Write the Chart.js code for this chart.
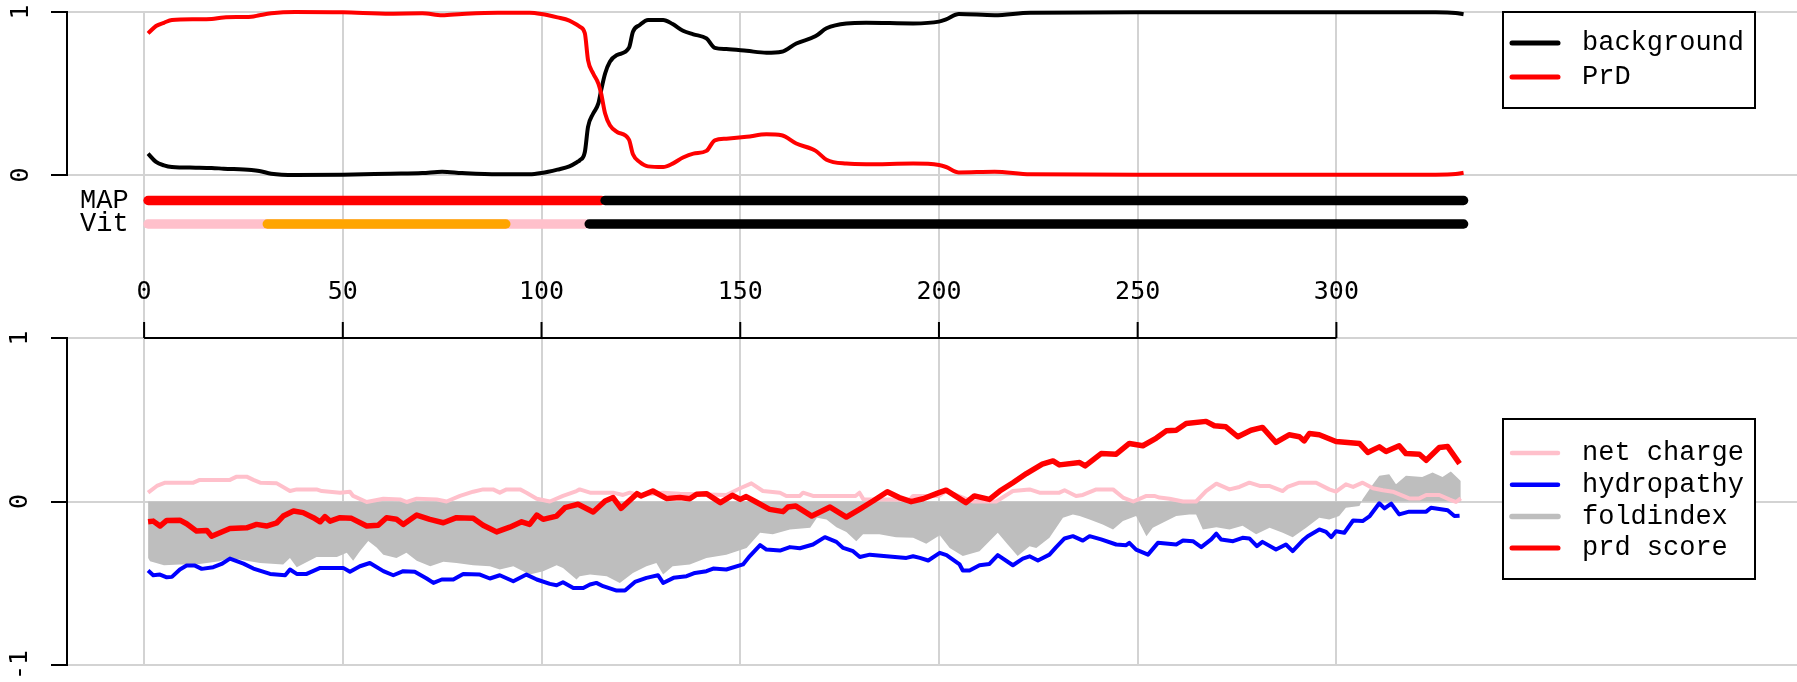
<!DOCTYPE html>
<html>
<head>
<meta charset="utf-8">
<script src="https://cdn.jsdelivr.net/npm/chart.js@4/dist/chart.umd.min.js"></script>
<style>
  html, body { margin: 0; padding: 0; background: #ffffff; }
  #chart { display: block; }
</style>
</head>
<body>
<canvas id="chart" width="1797" height="682"></canvas>
<script>
// ---- data ----
const xTicks = [0, 50, 100, 150, 200, 250, 300];
const topTicks = [0, 1];
const bottomTicks = [-1, 0, 1];
const trackNames = ["MAP", "Vit"];

const topLegendLabels = ["background", "PrD"];
const bottomLegendLabels = ["net charge", "hydropathy", "foldindex", "prd score"];

// residue ranges of each state along the two tracks (later runs drawn on top)
const mapRuns = [[1, 115], [116, 332]];
const mapStates = ["PrD", "background"];
const vitRuns = [[1, 111], [31, 91], [112, 332]];
const vitStates = ["PrD", "core", "background"];

// top panel: state probabilities, [residue, value]
const prdProb = [
  [1, 0.869], [3, 0.914], [5, 0.934], [7, 0.951], [13, 0.955], [17, 0.957], [20, 0.967],
  [27, 0.971], [29, 0.98], [32, 0.992], [38, 1.0], [50, 0.998], [62, 0.99], [70, 0.992],
  [75, 0.98], [80, 0.988], [89, 0.996], [97, 0.996], [100, 0.988], [104, 0.967], [107, 0.947],
  [109, 0.92], [109.6, 0.91], [110.9, 0.869], [111.7, 0.705], [113, 0.623], [114.3, 0.561],
  [115, 0.5], [116, 0.377], [117.2, 0.305], [119, 0.264], [122, 0.217], [123, 0.127],
  [124.7, 0.08], [126.8, 0.053], [130.6, 0.049], [133, 0.07], [135.6, 0.107], [138.2, 0.131],
  [141.5, 0.148], [143.6, 0.213], [146.5, 0.223], [151.6, 0.234], [156.6, 0.25], [160.4, 0.244],
  [164.1, 0.193], [169, 0.148], [171.7, 0.094], [176.7, 0.07], [181.7, 0.066], [193.5, 0.07],
  [200, 0.061], [201.8, 0.049], [205, 0.016], [214, 0.02], [223, 0.004], [250, 0.002],
  [300, 0.002], [325, 0.002], [330, 0.006], [332, 0.014],
];
const bgProb = [
  [1, 0.131], [3, 0.08], [5, 0.059], [7, 0.049], [13, 0.045], [17, 0.043], [20, 0.039],
  [27, 0.031], [29, 0.025], [32, 0.008], [38, 0.0], [50, 0.002], [62, 0.008], [70, 0.012],
  [75, 0.02], [80, 0.012], [89, 0.004], [97, 0.004], [100, 0.012], [104, 0.033], [107, 0.053],
  [109, 0.08], [109.6, 0.09], [110.9, 0.141], [111.7, 0.295], [113, 0.377], [114.3, 0.439],
  [115, 0.52], [116, 0.623], [117.2, 0.695], [119, 0.736], [122, 0.78], [123, 0.879],
  [124.7, 0.92], [126.8, 0.951], [130.6, 0.951], [133, 0.926], [135.6, 0.885], [138.2, 0.863],
  [141.5, 0.838], [143.6, 0.78], [146.5, 0.773], [151.6, 0.762], [156.6, 0.75], [160.4, 0.756],
  [164.1, 0.807], [169, 0.852], [171.7, 0.9], [176.7, 0.93], [181.7, 0.934], [193.5, 0.93],
  [200, 0.941], [201.8, 0.955], [205, 0.988], [214, 0.98], [223, 0.996], [250, 0.998],
  [300, 0.998], [325, 0.998], [330, 0.994], [332, 0.986],
];

// bottom panel: per-residue scores, [residue, value]
const prdScore = [
  [1, -0.124], [2.3, -0.12], [4, -0.15], [5.7, -0.116], [9, -0.114], [10.7, -0.136], [13.2, -0.181],
  [15.8, -0.177], [17, -0.212], [21.6, -0.165], [25.8, -0.161], [28.3, -0.14], [30.8, -0.15],
  [33.4, -0.13], [35, -0.089], [37.6, -0.058], [40, -0.068], [42.6, -0.099], [44.3, -0.124],
  [45.5, -0.093], [46.8, -0.12], [49.3, -0.099], [52.2, -0.103], [56, -0.15], [58.9, -0.145],
  [61, -0.099], [63.5, -0.109], [65.2, -0.14], [68.6, -0.083], [71.9, -0.109], [75.3, -0.13],
  [78.6, -0.099], [82.8, -0.103], [85.3, -0.145], [88.7, -0.186], [92, -0.157], [95, -0.124],
  [97, -0.14], [98.8, -0.083], [100.4, -0.109], [103.8, -0.089], [105.9, -0.038], [109.2, -0.017],
  [113, -0.064], [116, 0.003], [118, 0.024], [120, -0.042], [124, 0.048], [125, 0.034],
  [128, 0.064], [131.4, 0.019], [134.8, 0.024], [137.3, 0.017], [139, 0.044], [141.5, 0.048],
  [145, -0.007], [148, 0.038], [150, 0.013], [151.5, 0.03], [154, -0.003], [157.4, -0.048],
  [160.8, -0.062], [162, -0.034], [164, -0.028], [168, -0.089], [172.6, -0.034], [176.7, -0.095],
  [180, -0.048], [183.4, 0.003], [187, 0.06], [190, 0.024], [193, -0.001], [196, 0.017],
  [200, 0.054], [201.8, 0.069], [203.5, 0.044], [206.8, -0.007], [208.9, 0.034], [212.7, 0.013],
  [215.3, 0.064], [218.6, 0.115], [222, 0.171], [226, 0.228], [228.7, 0.248], [230.3, 0.224],
  [235.4, 0.238], [236.8, 0.218], [240.8, 0.293], [244.6, 0.289], [247.9, 0.355], [251.3, 0.341],
  [254.7, 0.388], [257.2, 0.432], [259.7, 0.436], [262.2, 0.477], [267.2, 0.49], [269.3, 0.463],
  [272.2, 0.457], [275.2, 0.396], [278.5, 0.436], [281.4, 0.453], [284.8, 0.361], [288.1, 0.408],
  [290.7, 0.396], [291.9, 0.371], [293.2, 0.416], [295.7, 0.408], [299.9, 0.367], [305.8, 0.355],
  [307.9, 0.3], [310.8, 0.334], [312.5, 0.306], [315.8, 0.341], [317.5, 0.293], [320.9, 0.289],
  [322.6, 0.252], [325.9, 0.33], [328, 0.336], [331, 0.232],
];
const hydropathy = [
  [1, -0.422], [2.3, -0.451], [4, -0.447], [5.7, -0.464], [7, -0.461], [9, -0.416], [10.7, -0.392],
  [12.8, -0.392], [14.5, -0.412], [17.4, -0.402], [19.5, -0.382], [21.6, -0.349], [25, -0.38],
  [27.5, -0.41], [31.7, -0.443], [35.5, -0.451], [36.7, -0.416], [38.4, -0.443], [40.9, -0.443],
  [44.3, -0.406], [50.1, -0.406], [51.8, -0.43], [54.3, -0.396], [56.8, -0.376], [60.2, -0.426],
  [62.7, -0.451], [65.2, -0.426], [68.1, -0.43], [71.1, -0.471], [72.8, -0.498], [74.9, -0.477],
  [77.8, -0.477], [80.3, -0.443], [84.5, -0.447], [87, -0.471], [89.5, -0.451], [92.9, -0.488],
  [96.2, -0.447], [98.8, -0.477], [102.1, -0.504], [103.8, -0.512], [105.4, -0.494], [108, -0.529],
  [110.5, -0.529], [112.2, -0.508], [113.8, -0.498], [115.5, -0.518], [118.9, -0.545], [121, -0.545],
  [123.5, -0.492], [126.4, -0.467], [129.3, -0.451], [130.6, -0.498], [133.2, -0.467], [136.5, -0.457],
  [138.6, -0.437], [141.5, -0.426], [143.2, -0.41], [146.5, -0.416], [150.7, -0.385], [152.4, -0.334],
  [155, -0.267], [156.6, -0.294], [160, -0.3], [162.5, -0.279], [165, -0.286], [168.3, -0.263],
  [171.3, -0.218], [174.2, -0.247], [175.9, -0.284], [178.4, -0.304], [180.1, -0.339], [182.6, -0.325],
  [186.8, -0.335], [191.8, -0.345], [193.5, -0.335], [195.2, -0.345], [197.3, -0.361], [200.2, -0.314],
  [201.9, -0.328], [205.2, -0.385], [206, -0.422], [207.7, -0.422], [210.2, -0.39], [212.7, -0.382],
  [214.8, -0.328], [218.6, -0.39], [221.1, -0.349], [222.8, -0.335], [224.9, -0.361], [227.8, -0.325],
  [229.5, -0.279], [231.6, -0.226], [233.7, -0.212], [236.2, -0.239], [237.9, -0.212], [240.8, -0.232],
  [244.6, -0.263], [247.1, -0.267], [247.9, -0.253], [249.6, -0.294], [252.6, -0.325], [255.1, -0.253],
  [259.7, -0.263], [261.4, -0.239], [263.9, -0.243], [266, -0.279], [268.5, -0.232], [269.8, -0.197],
  [271, -0.232], [274, -0.243], [276.4, -0.222], [278.1, -0.226], [280, -0.273], [281.4, -0.247],
  [284.8, -0.294], [287.3, -0.263], [289, -0.304], [291.5, -0.239], [292.8, -0.212], [295.7, -0.171],
  [297.4, -0.186], [298.7, -0.218], [299.9, -0.182], [302, -0.191], [304.2, -0.116], [306.6, -0.12],
  [308.4, -0.089], [310.8, -0.011], [312.1, -0.042], [313.8, -0.013], [315.8, -0.079], [318.3, -0.062],
  [322.6, -0.062], [323.8, -0.038], [328, -0.054], [329.7, -0.089], [331, -0.087],
];
const netCharge = [
  [1, 0.054], [3.2, 0.095], [5.3, 0.115], [12.4, 0.115], [14, 0.132], [21.6, 0.132], [23.3, 0.152],
  [25.8, 0.152], [27.5, 0.132], [29.2, 0.115], [33.4, 0.111], [36.7, 0.064], [38.4, 0.074],
  [43.4, 0.074], [44.7, 0.064], [49.3, 0.054], [51.8, 0.06], [52.6, 0.034], [56, -0.003],
  [60.2, 0.017], [64.4, 0.013], [66.1, -0.003], [68.6, 0.017], [73.6, 0.013], [76.1, 0.0],
  [79.5, 0.034], [82.8, 0.06], [85.3, 0.074], [87.8, 0.074], [89.5, 0.054], [91.2, 0.074],
  [94.6, 0.074], [96.2, 0.054], [98.8, 0.017], [102.1, 0.0], [105.4, 0.034], [108.8, 0.064],
  [109.6, 0.074], [112.2, 0.054], [118, 0.054], [120.5, 0.04], [122.2, 0.054], [124.7, 0.04],
  [130.6, 0.054], [134.8, 0.048], [146.5, 0.04], [150, 0.081], [152.8, 0.111], [155.7, 0.064],
  [160, 0.054], [161.6, 0.034], [165, 0.034], [165.8, 0.054], [168.3, 0.034], [179, 0.034],
  [180, 0.054], [181, 0.013], [192.6, 0.01], [193.5, 0.034], [200, 0.034], [201.8, 0.064],
  [206, 0.024], [208.5, 0.0], [214.4, 0.0], [216, 0.024], [218.6, 0.064], [222.8, 0.074],
  [225.3, 0.054], [230.3, 0.054], [231.6, 0.069], [234.5, 0.034], [236.2, 0.04], [239.6, 0.074],
  [243.8, 0.074], [246.3, 0.024], [248.9, 0.0], [252.2, 0.034], [254.2, 0.034], [255.5, 0.024],
  [258, 0.017], [261.4, 0.0], [264.7, 0.0], [267.2, 0.064], [269.8, 0.109], [273.1, 0.074],
  [275.6, 0.089], [278.1, 0.115], [280.7, 0.095], [283.1, 0.095], [286.5, 0.064], [287.7, 0.089],
  [290.7, 0.115], [294.9, 0.115], [298.2, 0.074], [299.9, 0.06], [302.4, 0.105], [304.2, 0.089],
  [306.6, 0.115], [309.2, 0.081], [311.7, 0.069], [314.2, 0.06], [318.3, 0.019], [320.9, 0.019],
  [322.6, 0.04], [325.9, 0.04], [328.4, 0.013], [330.1, -0.003], [331.3, 0.019],
];
const foldIndex = [
  [1, -0.345], [1.5, -0.366], [5, -0.39], [9, -0.385], [13, -0.385], [19, -0.366], [21.6, -0.345],
  [29.2, -0.376], [35, -0.385], [36.7, -0.345], [38.4, -0.402], [43.4, -0.34], [48.5, -0.34],
  [51, -0.313], [52.6, -0.362], [54.3, -0.304], [56.4, -0.241], [58.5, -0.282], [60.2, -0.325],
  [63.5, -0.345], [66, -0.313], [68.6, -0.362], [72, -0.396], [75.3, -0.369], [78.6, -0.376],
  [82.8, -0.39], [87, -0.396], [89.5, -0.416], [92.9, -0.396], [97, -0.447], [100.4, -0.426],
  [103.8, -0.39], [105.4, -0.406], [108.8, -0.477], [109.6, -0.457], [112.2, -0.447], [116.4, -0.457],
  [119.7, -0.498], [123, -0.437], [126.4, -0.396], [128.9, -0.376], [130.6, -0.447], [133, -0.396],
  [137.3, -0.385], [141.5, -0.345], [146.5, -0.325], [151.6, -0.284], [155, -0.191], [158.2, -0.2],
  [162.5, -0.171], [167.6, -0.161], [169.3, -0.1], [171.7, -0.11], [174.2, -0.157], [176.7, -0.186],
  [179.2, -0.243], [180.9, -0.2], [185, -0.2], [189.2, -0.218], [193.5, -0.222], [196.8, -0.259],
  [200.2, -0.206], [202.7, -0.284], [206, -0.334], [210.2, -0.304], [214.8, -0.191], [217.3, -0.263],
  [219.8, -0.334], [222.8, -0.273], [224.5, -0.284], [227.8, -0.222], [231.2, -0.1], [233.7, -0.079],
  [235.4, -0.089], [237.9, -0.11], [241.2, -0.14], [243.8, -0.171], [246.3, -0.12], [249.6, -0.089],
  [252.2, -0.212], [253.8, -0.161], [256.3, -0.13], [259.7, -0.089], [263, -0.079], [264.7, -0.079],
  [266.4, -0.171], [269.8, -0.157], [273.1, -0.171], [276.4, -0.149], [279.8, -0.2], [283.2, -0.161],
  [286.5, -0.191], [289, -0.218], [292.4, -0.161], [295.7, -0.1], [298.2, -0.11], [300.7, -0.089],
  [302.4, -0.038], [305.8, -0.028], [306.6, 0.013], [309.2, 0.105], [310.8, 0.157], [313.3, 0.167],
  [315, 0.105], [317.5, 0.157], [321.6, 0.15], [324.2, 0.177], [326.7, 0.15], [328.8, 0.183],
  [331.3, 0.126],
];

// ---- styles ----
const gridColor = "#d3d3d3";
const tickFont = { family: "DejaVu Sans Mono", size: 25 };
const monoFont = { family: "Liberation Mono", size: 27 };

const seriesStyle = {
  background: { color: "#000000", width: 4, legendWidth: 5 },
  PrD: { color: "#ff0000", width: 4, legendWidth: 5 },
  "prd score": { color: "#ff0000", width: 5.5, legendWidth: 5 },
  hydropathy: { color: "#0000ff", width: 4, legendWidth: 4.5 },
  "net charge": { color: "#ffc0cb", width: 4, legendWidth: 4.5 },
  foldindex: { color: "#bebebe", width: 0, legendWidth: 5.5 },
};

const trackColors = {
  MAP: { PrD: "#ff0000", background: "#000000" },
  Vit: { PrD: "#ffc0cb", core: "#ffa500", background: "#000000" },
};

function lineDataset(label, data, yAxisID, extra) {
  const style = seriesStyle[label];
  return {
    type: "line",
    label,
    data,
    yAxisID,
    borderColor: style.color,
    backgroundColor: style.color,
    borderWidth: style.width,
    borderJoinStyle: "round",
    pointRadius: 0,
    tension: 0,
    fill: false,
    clip: false,
    ...extra,
  };
}

function trackDatasets(name, runs, states) {
  const row = trackNames.indexOf(name) + 1;
  // later runs sit on top, and Chart.js paints dataset 0 last
  return runs
    .map((run, i) => ({
      type: "line",
      label: `${name} ${states[i]}`,
      data: [[run[0], row], [run[1], row]],
      yAxisID: "yMid",
      borderColor: trackColors[name][states[i]],
      borderWidth: 9.5,
      borderCapStyle: "round",
      pointRadius: 0,
      clip: false,
    }))
    .reverse();
}

const datasets = [
  ...trackDatasets("MAP", mapRuns, mapStates),
  ...trackDatasets("Vit", vitRuns, vitStates),
  lineDataset("PrD", prdProb, "yTop", { cubicInterpolationMode: "monotone" }),
  lineDataset("background", bgProb, "yTop", { cubicInterpolationMode: "monotone" }),
  lineDataset("prd score", prdScore, "yBot"),
  lineDataset("hydropathy", hydropathy, "yBot"),
  lineDataset("net charge", netCharge, "yBot"),
  lineDataset("foldindex", foldIndex, "yBot", { fill: "origin", borderWidth: 0 }),
];

function drawLegend(ctx, box, labels) {
  ctx.fillStyle = "#ffffff";
  ctx.fillRect(box.x, box.y, box.w, box.h);
  ctx.strokeStyle = "#000000";
  ctx.lineWidth = 2;
  ctx.strokeRect(box.x, box.y, box.w, box.h);

  labels.forEach((label, i) => {
    const style = seriesStyle[label];
    const y = box.firstY + i * box.step;
    ctx.strokeStyle = style.color;
    ctx.lineWidth = style.legendWidth;
    ctx.lineCap = "round";
    ctx.beginPath();
    ctx.moveTo(box.x + 9, y);
    ctx.lineTo(box.x + 55, y);
    ctx.stroke();

    ctx.fillStyle = "#000000";
    ctx.font = `${monoFont.size}px "${monoFont.family}"`;
    ctx.textAlign = "left";
    ctx.textBaseline = "middle";
    ctx.fillText(label, box.x + 79, y);
  });
}

// the x axis sits on top of the lower panel and only spans the tick range,
// so it is drawn here from the x scale instead of by Chart.js itself
const extrasPlugin = {
  id: "extras",
  afterDraw(chart) {
    const { ctx } = chart;
    const xScale = chart.scales.x;
    const axisY = chart.scales.yBot.getPixelForValue(1);

    ctx.save();
    ctx.strokeStyle = "#000000";
    ctx.lineWidth = 2;
    ctx.beginPath();
    ctx.moveTo(xScale.getPixelForValue(xTicks[0]), axisY);
    ctx.lineTo(xScale.getPixelForValue(xTicks[xTicks.length - 1]), axisY);
    xTicks.forEach((value) => {
      const px = xScale.getPixelForValue(value);
      ctx.moveTo(px, axisY);
      ctx.lineTo(px, axisY - 16);
    });
    ctx.stroke();

    ctx.fillStyle = "#000000";
    ctx.font = `${tickFont.size}px "${tickFont.family}"`;
    ctx.textAlign = "center";
    ctx.textBaseline = "middle";
    xTicks.forEach((value) => {
      ctx.fillText(String(value), xScale.getPixelForValue(value), axisY - 46);
    });

    drawLegend(ctx, { x: 1503, y: 12, w: 252, h: 96, firstY: 43, step: 34 }, topLegendLabels);
    drawLegend(ctx, { x: 1503, y: 419, w: 252, h: 160, firstY: 453, step: 31.7 }, bottomLegendLabels);
    ctx.restore();
  },
};

function fixedTicks(values) {
  return (scale) => {
    scale.ticks = values.map((value) => ({ value }));
  };
}

// fixed box sizes, and no extra label padding pushed onto the chart area
function fixedSize(width, height) {
  return (scale) => {
    if (width !== null) scale.width = width;
    if (height !== null) scale.height = height;
    scale.paddingTop = 0;
    scale.paddingBottom = 0;
    scale.paddingLeft = 0;
    scale.paddingRight = 0;
  };
}

function valueAxis(extra, padding) {
  return {
    type: "linear",
    position: "left",
    stack: "rows",
    offset: false,
    afterFit: fixedSize(67, null),
    ticks: {
      font: tickFont,
      color: "#000000",
      minRotation: 90,
      maxRotation: 90,
      crossAlign: "center",
      autoSkip: false,
      padding,
    },
    grid: { color: gridColor, lineWidth: 2, tickColor: "#000000", tickLength: 16, tickWidth: 2 },
    border: { display: true, color: "#000000", width: 2 },
    ...extra,
  };
}

new Chart(document.getElementById("chart"), {
  type: "line",
  data: { datasets },
  options: {
    responsive: false,
    animation: false,
    devicePixelRatio: 1,
    layout: { padding: { left: 0, right: 0, top: 12, bottom: 17 } },
    plugins: {
      legend: { display: false },
      tooltip: { enabled: false },
    },
    scales: {
      x: {
        type: "linear",
        position: "bottom",
        min: -19.4,
        max: 415.9,
        afterBuildTicks: fixedTicks(xTicks),
        afterFit: fixedSize(null, 0),
        ticks: { display: false },
        border: { display: false },
        grid: { color: gridColor, lineWidth: 2, drawTicks: false },
      },
      yTop: valueAxis({
        min: 0,
        max: 1,
        weight: 3,
        stackWeight: 163,
        afterBuildTicks: fixedTicks(topTicks),
      }, 22),
      yMid: {
        type: "linear",
        position: "left",
        stack: "rows",
        weight: 2,
        stackWeight: 163,
        min: -0.085,
        max: 6.85,
        reverse: true,
        afterBuildTicks: fixedTicks(trackNames.map((_, i) => i + 1)),
        afterFit: fixedSize(67, null),
        ticks: {
          mirror: true,
          padding: 13,
          font: monoFont,
          color: "#000000",
          autoSkip: false,
          callback: (value) => trackNames[value - 1] ?? "",
        },
        grid: { display: false },
        border: { display: false },
      },
      yBot: valueAxis({
        min: -1,
        max: 1,
        weight: 1,
        stackWeight: 327,
        afterBuildTicks: fixedTicks(bottomTicks),
      }, 15),
    },
  },
  plugins: [extrasPlugin],
});
</script>
</body>
</html>
